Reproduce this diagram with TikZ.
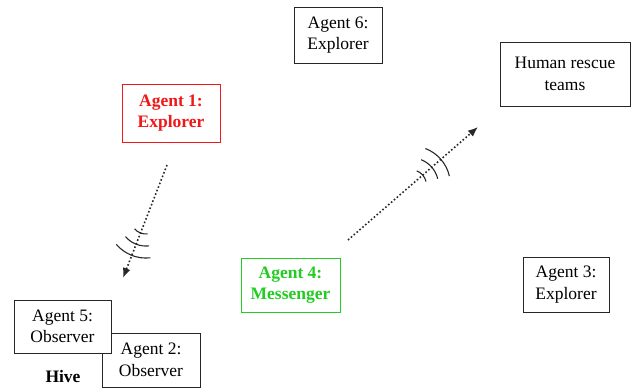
\documentclass[tikz,border=0pt]{standalone}
\usepackage{fontspec}
\setmainfont{Liberation Serif}
\usetikzlibrary{calc,arrows.meta}

\definecolor{agentred}{RGB}{240,24,24}
\definecolor{agentgreen}{RGB}{34,204,34}
\definecolor{linkgray}{RGB}{40,40,40}

\tikzset{
  agentbox/.style={draw=black!85, line width=0.9pt, fill=white, align=center,
    inner sep=0pt, font=\fontsize{17.5}{21.5}\selectfont},
  explorerhot/.style={agentbox, draw=agentred, text=agentred,
    font=\fontsize{17.5}{21.5}\selectfont\bfseries},
  messengerbox/.style={agentbox, draw=agentgreen, text=agentgreen,
    font=\fontsize{17.5}{21.5}\selectfont\bfseries},
  radiolink/.style={linkgray, line width=1.6pt, dash pattern=on 1.6pt off 2.2pt,
    -{Latex[length=10pt,width=8pt]}},
  wave/.style={linkgray, line width=1.1pt},
}

% three signal arcs around centre #1, facing direction #2
\newcommand{\signalwaves}[2]{%
  \foreach \r in {15,27,39}{
    \draw[wave] ([shift={(#2-28:\r)}]#1) arc[start angle=#2-28, end angle=#2+28, radius=\r];
  }%
}

\begin{document}
\begin{tikzpicture}[x=1pt,y=-1pt]
  \useasboundingbox (0,0) rectangle (633,391);

  % agents and rescue teams
  \node[agentbox, minimum width=88, minimum height=56] (a6) at (338,35) {Agent 6:\\Explorer};
  \node[agentbox, minimum width=130, minimum height=64] (human) at (565,74) {Human rescue\\teams};
  \node[explorerhot, minimum width=98, minimum height=58] (a1) at (171,113) {Agent 1:\\Explorer};
  \node[messengerbox, minimum width=99, minimum height=54] (a4) at (290.5,285) {Agent 4:\\Messenger};
  \node[agentbox, minimum width=86, minimum height=55] (a3) at (566,284.5) {Agent 3:\\Explorer};

  % the hive: agent 5 sits in front of agent 2
  \node[agentbox, minimum width=98, minimum height=54] (a2) at (151,360) {Agent 2:\\Observer};
  \node[agentbox, minimum width=97, minimum height=53] (a5) at (62.5,326.5) {Agent 5:\\Observer};
  \node[font=\fontsize{17.5}{21}\selectfont\bfseries] (hive) at (63,377) {Hive};

  % radio links
  \coordinate (s1) at (167,165);
  \coordinate (e1) at (123,278);
  \coordinate (s2) at (348,240);
  \coordinate (e2) at (478,127);

  \draw[radiolink] (s1) -- (e1);
  \draw[radiolink] (s2) -- (e2);

  \coordinate (w1) at ($(s1)!58pt!(e1)$);
  \coordinate (w2) at ($(s2)!84pt!(e2)$);
  \signalwaves{w1}{111.5}
  \signalwaves{w2}{-41}
\end{tikzpicture}
\end{document}
